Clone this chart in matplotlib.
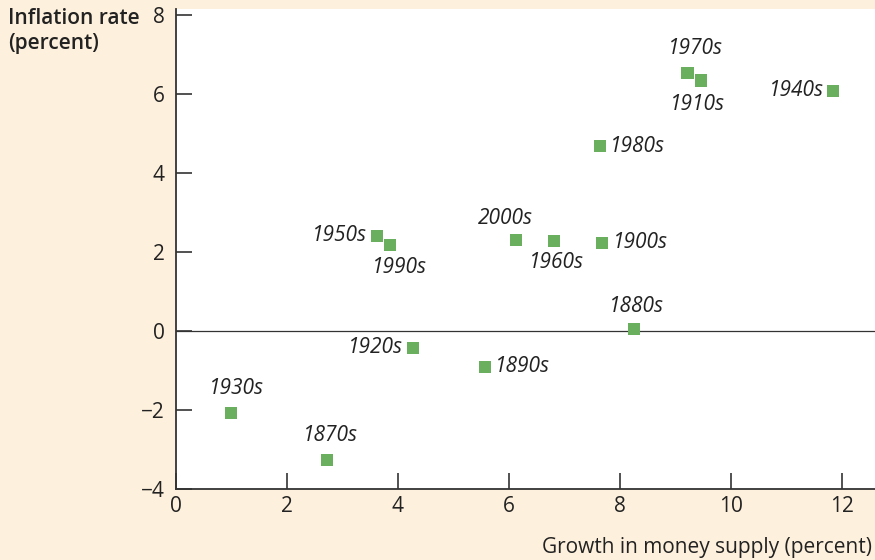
import matplotlib
matplotlib.use("Agg")
import matplotlib.pyplot as plt

BG = "#fdf0dc"
GREEN = "#6aaf5e"
DARK = "#333333"

decades = ["1870s", "1880s", "1890s", "1900s", "1910s", "1920s", "1930s",
           "1940s", "1950s", "1960s", "1970s", "1980s", "1990s", "2000s"]
money_growth = [2.73, 8.25, 5.57, 7.68, 9.47, 4.27, 0.99,
                11.85, 3.62, 6.81, 9.22, 7.64, 3.86, 6.13]
inflation = [-3.27, 0.05, -0.91, 2.23, 6.34, -0.43, -2.08,
             6.08, 2.41, 2.28, 6.54, 4.68, 2.18, 2.30]

# label placement: offset in points and alignment
label_pos = {
    "1870s": ((2, 10), "center", "bottom"),
    "1880s": ((2, 9), "center", "bottom"),
    "1890s": ((7, 0), "left", "center"),
    "1900s": ((8, 0), "left", "center"),
    "1910s": ((-3, -10), "center", "top"),
    "1920s": ((-7, 0), "right", "center"),
    "1930s": ((4, 10), "center", "bottom"),
    "1940s": ((-7, 0), "right", "center"),
    "1950s": ((-7, 0), "right", "center"),
    "1960s": ((2, -8), "center", "top"),
    "1970s": ((6, 10), "center", "bottom"),
    "1980s": ((7, 0), "left", "center"),
    "1990s": ((7, -9), "center", "top"),
    "2000s": ((-8, 8), "center", "bottom"),
}

plt.rcParams["font.family"] = ["Open Sans", "DejaVu Sans"]

fig = plt.figure(figsize=(8.75, 5.6), dpi=100, facecolor=BG)
ax = fig.add_axes([176 / 875, 71 / 560, 699 / 875, 480 / 560])
ax.set_facecolor("white")

ax.set_xlim(0, 12.6)
ax.set_ylim(-4, 8.15)
ax.set_xticks([0, 2, 4, 6, 8, 10, 12])
ax.set_yticks([-4, -2, 0, 2, 4, 6, 8])

for side in ["top", "right"]:
    ax.spines[side].set_visible(False)
for side in ["left", "bottom"]:
    ax.spines[side].set_color(DARK)
    ax.spines[side].set_linewidth(1.3)

ax.tick_params(axis="both", direction="in", length=11.5, width=1.2, color=DARK,
               labelsize=15, labelcolor="#222222")
ax.tick_params(axis="y", pad=8)
ax.tick_params(axis="x", pad=5)

ax.axhline(0, color=DARK, lw=0.9, zorder=1)

ax.scatter(money_growth, inflation, marker="s", s=75, color=GREEN,
           edgecolors="none", zorder=3, clip_on=False)

for name, x, y in zip(decades, money_growth, inflation):
    (dx, dy), ha, va = label_pos[name]
    ax.annotate(name, (x, y), xytext=(dx, dy), textcoords="offset points",
                ha=ha, va=va, fontsize=15, style="italic", color="#222222")

fig.text(8 / 875, 1 - 8 / 560, "Inflation rate\n(percent)", ha="left", va="top",
         fontsize=15, fontweight="semibold", color="#222222", linespacing=1.25)
fig.text(872 / 875, 1 - 548 / 560, "Growth in money supply (percent)",
         ha="right", va="center", fontsize=15, color="#222222")

fig.savefig("out.png", dpi=100, facecolor=BG)
